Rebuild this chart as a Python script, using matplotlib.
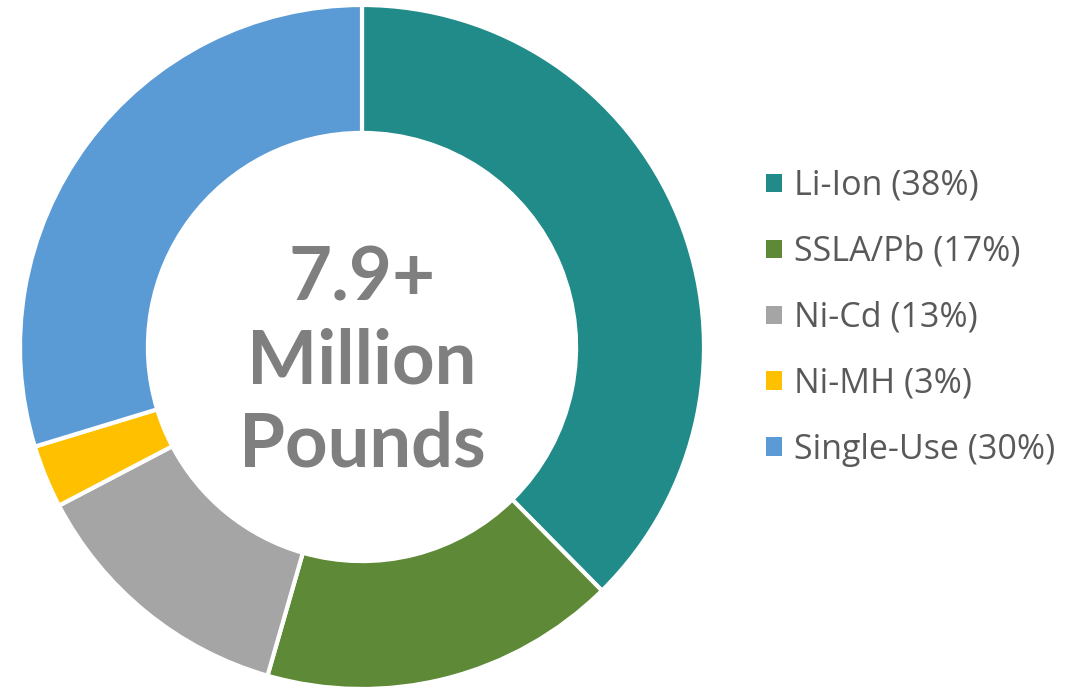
import matplotlib
matplotlib.use("Agg")
import matplotlib.pyplot as plt
from matplotlib.patches import Patch

categories = ["Li-Ion", "SSLA/Pb", "Ni-Cd", "Ni-MH", "Single-Use"]
shares = [38, 17, 13, 3, 30]
colors = ["#218B89", "#5E8936", "#A5A5A5", "#FFC000", "#5B9BD5"]
center_lines = ["7.9+", "Million", "Pounds"]

fig = plt.figure(figsize=(10.76, 6.98), dpi=100)
ax = fig.add_axes([20 / 1076, 9 / 698, 684 / 1076, 684 / 698])
wedges, _ = ax.pie(shares, colors=colors, startangle=90, counterclock=False,
                   radius=1.0, wedgeprops=dict(width=0.374, edgecolor="white", linewidth=3))
ax.set_xlim(-1, 1)
ax.set_ylim(-1, 1)
ax.set_aspect("equal")
ax.axis("off")

ax.text(0, -0.045, "\n".join(center_lines), ha="center", va="center", color="#7F7F7F",
        fontsize=53.5, family="Lato", fontweight="bold", linespacing=1.25)

labels = [f"{c} ({v}%)" for c, v in zip(categories, shares)]
handles = [Patch(facecolor=c, edgecolor="none") for c in colors]
leg = fig.legend(handles, labels, loc="upper left", bbox_to_anchor=(766 / 1076, 1 - 169 / 698),
                 frameon=False, prop=dict(family="Open Sans", size=24.5),
                 borderpad=0, borderaxespad=0,
                 handlelength=0.47, handleheight=0.47, handletextpad=0.35, labelspacing=0.94)
for t in leg.get_texts():
    t.set_color("#595959")

fig.savefig("out.png", dpi=100, facecolor="white")
